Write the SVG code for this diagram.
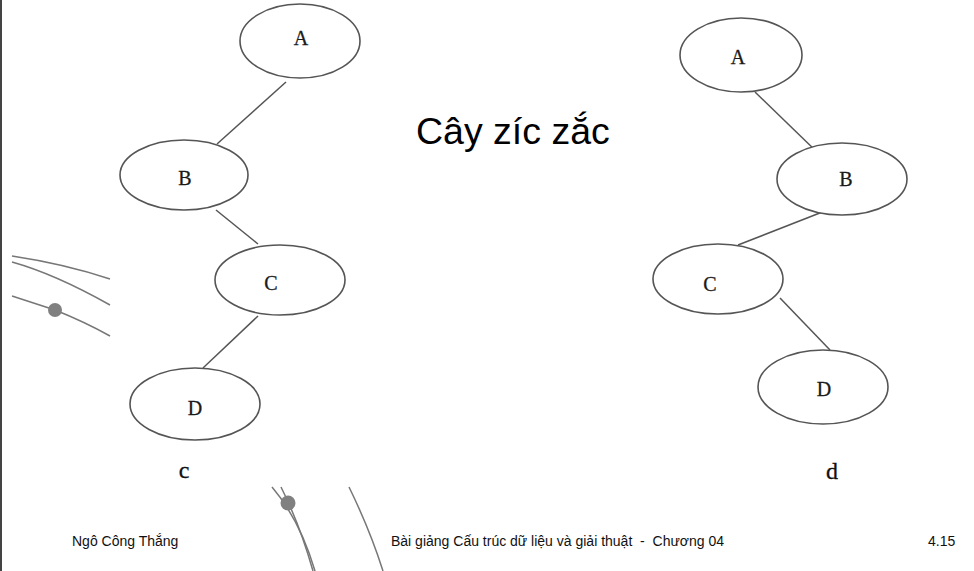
<svg xmlns="http://www.w3.org/2000/svg" width="974" height="571" viewBox="0 0 974 571">
  <style>
    .node ellipse { fill: #ffffff; stroke: #555555; stroke-width: 1.6; }
    .node text { font-family: "Liberation Serif", "DejaVu Serif", serif; font-size: 20px; fill: #1a1a1a; stroke: #1a1a1a; stroke-width: 0.3; text-anchor: middle; }
    .edge { stroke: #555555; stroke-width: 1.5; fill: none; }
    .deco { stroke: #777777; stroke-width: 1.5; fill: none; }
    .dot { fill: #808080; }
    .label { font-family: "Liberation Serif", "DejaVu Serif", serif; font-size: 24px; fill: #111111; stroke: #111111; stroke-width: 0.3; text-anchor: middle; }
    .title { font-family: "Liberation Sans", Arial, sans-serif; font-size: 37.5px; fill: #000000; }
    .footer { font-family: "Liberation Sans", Arial, sans-serif; font-size: 14px; fill: #111111; }
  </style>
  <rect width="974" height="571" fill="#ffffff"/>
  <line x1="1" y1="0" x2="1" y2="571" stroke="#444444" stroke-width="2"/>

  <g id="decorations">
    <path class="deco" d="M12,256 Q65,264 110,279"/>
    <path class="deco" d="M12,262 Q55,274 110,305"/>
    <path class="deco" d="M12,296 L55,310 Q85,322 110,336"/>
    <circle class="dot" cx="55" cy="310" r="7"/>
    <path class="deco" d="M272,487 Q300,520 315,571"/>
    <path class="deco" d="M281,487 Q300,525 313,571"/>
    <circle class="dot" cx="288" cy="503" r="7.5"/>
    <path class="deco" d="M349,487 Q370,530 383,571"/>
  </g>

  <g id="connectors">
    <line class="edge" x1="286" y1="82" x2="217" y2="144"/>
    <line class="edge" x1="216" y1="210" x2="258" y2="244"/>
    <line class="edge" x1="258" y1="316" x2="203" y2="368"/>
    <line class="edge" x1="755" y1="92" x2="818" y2="153"/>
    <line class="edge" x1="830" y1="209" x2="738" y2="245"/>
    <line class="edge" x1="780" y1="298" x2="830" y2="350"/>
  </g>

  <g id="c-A" class="node"><ellipse cx="300" cy="41" rx="60" ry="37"/><text x="301" y="45">A</text></g>
  <g id="c-B" class="node"><ellipse cx="184" cy="175" rx="64" ry="35"/><text x="185" y="185">B</text></g>
  <g id="c-C" class="node"><ellipse cx="280" cy="280" rx="65" ry="35"/><text x="271" y="290">C</text></g>
  <g id="c-D" class="node"><ellipse cx="195" cy="404" rx="65" ry="36"/><text x="195" y="415">D</text></g>

  <g id="d-A" class="node"><ellipse cx="741" cy="55" rx="61" ry="37"/><text x="738" y="64">A</text></g>
  <g id="d-B" class="node"><ellipse cx="842" cy="179" rx="65" ry="36"/><text x="846" y="186">B</text></g>
  <g id="d-C" class="node"><ellipse cx="718" cy="279" rx="65" ry="35"/><text x="710" y="291">C</text></g>
  <g id="d-D" class="node"><ellipse cx="823" cy="387" rx="65" ry="37"/><text x="824" y="396">D</text></g>

  <text class="label" x="184" y="478">c</text>
  <text class="label" x="832" y="479">d</text>

  <text class="title" x="416" y="144">Cây zíc zắc</text>

  <text class="footer" x="72" y="546">Ngô Công Thắng</text>
  <text class="footer" x="391" y="546" xml:space="preserve">Bài giảng Cấu trúc dữ liệu và giải thuật  -  Chương 04</text>
  <text class="footer" x="928" y="546">4.15</text>
</svg>
